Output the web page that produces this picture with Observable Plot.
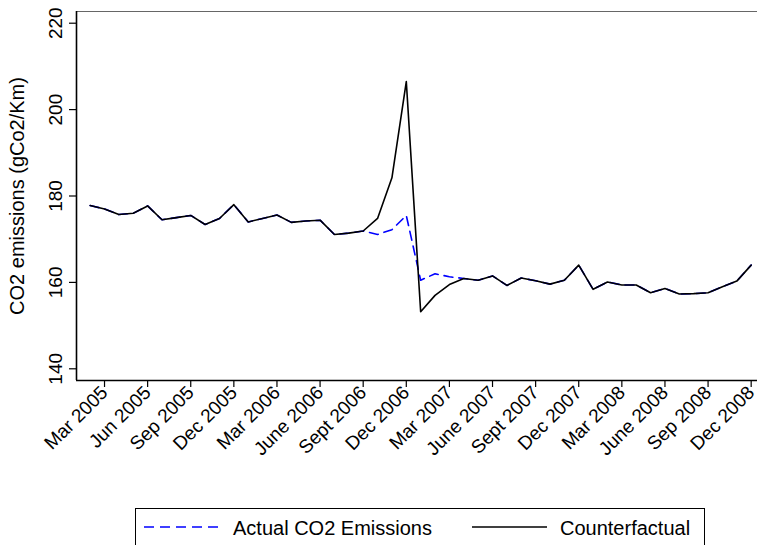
<!DOCTYPE html>
<html><head><meta charset="utf-8">
<script src="https://cdn.jsdelivr.net/npm/d3@7"></script>
<script src="https://cdn.jsdelivr.net/npm/@observablehq/plot@0.6"></script>
<style>
body{margin:0;background:#fff;font-family:"Liberation Sans",Arial,Helvetica,sans-serif;}
#wrap{position:relative;width:757px;height:545px;overflow:hidden;background:#fff;}
#legend{position:absolute;left:135px;top:508px;width:570px;height:60px;border:1px solid #000;box-sizing:border-box;}
</style></head><body><div id="wrap"></div>
<script>
// months: 1 = Feb 2005 ... 47 = Dec 2008 (0 = Jan 2005)
const monthIndex = d3.range(1, 48);
const counterfactual = [
  177.8, 177.0, 175.7, 176.0, 177.7, 174.5, 175.0, 175.5, 173.4, 174.8, 178.0,
  174.0, 174.8, 175.6, 173.9, 174.2, 174.4, 171.1, 171.4, 171.9, 174.8, 184.2, 206.5,
  153.2, 157.0, 159.5, 160.9, 160.5, 161.5, 159.3, 161.0, 160.4, 159.6, 160.5, 164.0,
  158.4, 160.1, 159.4, 159.4, 157.6, 158.6, 157.3, 157.4, 157.6, 159.0, 160.3, 164.0
];
const actual = [
  177.8, 177.0, 175.7, 176.0, 177.7, 174.5, 175.0, 175.5, 173.4, 174.8, 178.0,
  174.0, 174.8, 175.6, 173.9, 174.2, 174.4, 171.1, 171.4, 171.9, 171.1, 172.2, 175.5,
  160.5, 162.0, 161.3, 160.9, 160.5, 161.5, 159.3, 161.0, 160.4, 159.6, 160.5, 164.0,
  158.4, 160.1, 159.4, 159.4, 157.6, 158.6, 157.3, 157.4, 157.6, 159.0, 160.3, 164.0
];
const tickMonths = [2, 5, 8, 11, 14, 17, 20, 23, 26, 29, 32, 35, 38, 41, 44, 47];
const tickLabels = ["Mar 2005","Jun 2005","Sep 2005","Dec 2005","Mar 2006","June 2006","Sept 2006","Dec 2006",
  "Mar 2007","June 2007","Sept 2007","Dec 2007","Mar 2008","June 2008","Sep 2008","Dec 2008"];
const yTicks = [140, 160, 180, 200, 220];
const yTitle = "CO2 emissions (gCo2/Km)";
const seriesNames = ["Actual CO2 Emissions", "Counterfactual"];

const data = monthIndex.map((m, i) => ({m, actual: actual[i], cf: counterfactual[i]}));
const xDom = [0.05, 47.44], yDom = [137.29, 222.71];
const FONT = '"Liberation Sans", Arial, Helvetica, sans-serif';

const chart = Plot.plot({
  width: 757, height: 500,
  marginLeft: 76, marginRight: 0, marginTop: 11, marginBottom: 120,
  x: {type: "linear", domain: xDom},
  y: {type: "linear", domain: yDom},
  style: {fontFamily: FONT, fontSize: "19px", color: "#000", background: "#fff"},
  marks: [
    Plot.ruleY([yDom[1]], {stroke: "#666", strokeWidth: 1.2}),
    Plot.line(data, {x: "m", y: "actual", stroke: "#0000ff", strokeWidth: 1.6, strokeDasharray: "9,6"}),
    Plot.line(data, {x: "m", y: "cf", stroke: "#000", strokeWidth: 1.6}),
    Plot.ruleX([xDom[0]], {stroke: "#000", strokeWidth: 1.6}),
    Plot.ruleY([yDom[0]], {stroke: "#000", strokeWidth: 1.6}),
    Plot.axisX(tickMonths, {tickFormat: d => tickLabels[tickMonths.indexOf(d)], tickRotate: -45, tickSize: 7, tickPadding: 2, fontSize: 19, strokeWidth: 1.2, label: null}),
    Plot.axisY(yTicks, {tickSize: 7, tickRotate: -90, tickPadding: 8, fontSize: 19, strokeWidth: 1.2, label: null}),
    Plot.text([yTitle], {frameAnchor: "left", dx: -53, rotate: -90, fontSize: 20, lineAnchor: "bottom", textAnchor: "middle"})
  ]
});
const wrap = document.getElementById("wrap");
wrap.appendChild(chart);

const legend = document.createElement("div");
legend.id = "legend";
legend.innerHTML = `<svg width="570" height="60" style="display:block;font-family:${FONT.replace(/"/g,"'")}">
  <line x1="8" x2="83" y1="18" y2="18" stroke="#0000ff" stroke-width="1.6" stroke-dasharray="10,6"></line>
  <text x="97" y="26" font-size="20">${seriesNames[0]}</text>
  <line x1="336" x2="411" y1="18" y2="18" stroke="#000" stroke-width="1.6"></line>
  <text x="424" y="26" font-size="20">${seriesNames[1]}</text>
</svg>`;
wrap.appendChild(legend);
</script></body></html>
